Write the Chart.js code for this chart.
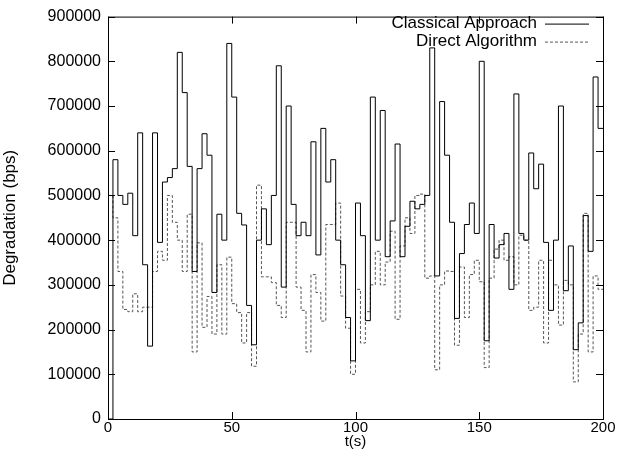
<!DOCTYPE html>
<html>
<head>
<meta charset="utf-8">
<script src="https://cdn.jsdelivr.net/npm/chart.js@4/dist/chart.umd.min.js"></script>
<style>
  html, body { margin: 0; padding: 0; background: #fff; }
  #wrap { width: 625px; height: 449px; }
</style>
</head>
<body>
<div id="wrap"><canvas id="degChart"></canvas></div>
<script>
// sample period of both traces (s)
var STEP = 2;

// degradation in kbps, one value per 2 s interval starting at t = 0
var classical = [
    0, 580, 500, 480, 505, 410, 640, 345, 163, 640,
    395, 530, 540, 560, 820, 730, 565, 330, 560, 638,
    590, 283, 458, 400, 840, 720, 460, 434, 254, 166,
    400, 470, 390, 500, 790, 295, 700, 480, 410, 440,
    410, 620, 367, 650, 530, 580, 400, 345, 227, 130,
    483, 410, 220, 720, 400, 690, 363, 443, 615, 363,
    431, 487, 470, 480, 500, 830, 320, 710, 590, 440,
    225, 370, 435, 483, 415, 800, 175, 435, 360, 390,
    415, 290, 727, 415, 400, 595, 515, 570, 395, 243,
    400, 700, 287, 387, 155, 215, 455, 375, 765, 650
];
var direct = [
    500, 450, 330, 245, 240, 280, 240, 250, 250, 330,
    375, 355, 500, 440, 400, 330, 458, 150, 394, 205,
    274, 190, 345, 190, 362, 258, 238, 170, 238, 118,
    523, 318, 318, 305, 254, 227, 440, 440, 295, 243,
    150, 323, 283, 219, 435, 435, 483, 275, 203, 100,
    290, 170, 240, 300, 375, 300, 351, 420, 223, 387,
    450, 415, 500, 503, 315, 320, 110, 300, 331, 330,
    165, 340, 227, 323, 355, 307, 115, 315, 380, 400,
    355, 363, 300, 411, 400, 243, 250, 355, 170, 355,
    300, 210, 310, 300, 83, 190, 460, 150, 320, 290
];
var seriesNames = ['Classical Approach', 'Direct Algorithm'];
var xTicks = [0, 50, 100, 150, 200];
var yTicks = [0, 100000, 200000, 300000, 400000, 500000, 600000, 700000, 800000, 900000];
var xTitle = 't(s)';

var FONT = "'Liberation Sans', Arial, Helvetica, sans-serif";

function toPoints(vals) {
    var pts = vals.map(function(v, i) { return { x: i * STEP, y: v * 1000 }; });
    // hold the last value until the end of the run
    pts.push({ x: vals.length * STEP, y: vals[vals.length - 1] * 1000 });
    return pts;
}

// gnuplot style frame: box, inward ticks on all sides, legend inside top right
var framePlugin = {
    id: 'frame',
    afterDatasetsDraw: function(chart) {
        var ctx = chart.ctx, a = chart.chartArea;
        var xs = chart.scales.x, ys = chart.scales.y;
        ctx.save();
        ctx.strokeStyle = '#000';
        ctx.lineWidth = 1;
        ctx.setLineDash([]);
        ctx.strokeRect(a.left + 0.5, a.top + 0.5, a.right - a.left, a.bottom - a.top);
        var len = 7;
        ctx.beginPath();
        xTicks.forEach(function(t) {
            var px = Math.round(xs.getPixelForValue(t)) + 0.5;
            ctx.moveTo(px, a.bottom); ctx.lineTo(px, a.bottom - len);
            ctx.moveTo(px, a.top); ctx.lineTo(px, a.top + len);
        });
        yTicks.forEach(function(t) {
            var py = Math.round(ys.getPixelForValue(t)) + 0.5;
            ctx.moveTo(a.left, py); ctx.lineTo(a.left + len, py);
            ctx.moveTo(a.right, py); ctx.lineTo(a.right - len, py);
        });
        ctx.stroke();

        // x axis title, tucked under the tick labels
        ctx.fillStyle = '#000';
        ctx.font = '15px ' + FONT;
        ctx.textAlign = 'center';
        ctx.textBaseline = 'alphabetic';
        ctx.fillText(xTitle, (a.left + a.right) / 2, 446);

        // legend
        ctx.font = '17px ' + FONT;
        ctx.textAlign = 'right';
        ctx.textBaseline = 'middle';
        chart.data.datasets.forEach(function(ds, i) {
            var y = a.top + 7 + i * 18;
            ctx.fillStyle = '#000';
            ctx.fillText(ds.label, a.right - 66, y);
            ctx.strokeStyle = ds.borderColor;
            ctx.setLineDash(ds.borderDash || []);
            ctx.beginPath();
            ctx.moveTo(a.right - 58, y + 0.5);
            ctx.lineTo(a.right - 14, y + 0.5);
            ctx.stroke();
        });
        ctx.restore();
    }
};

new Chart(document.getElementById('degChart'), {
    type: 'line',
    data: {
        datasets: [{
            label: seriesNames[0],
            data: toPoints(classical),
            borderColor: '#000',
            borderWidth: 1,
            stepped: true,
            pointRadius: 0,
            fill: false
        }, {
            label: seriesNames[1],
            data: toPoints(direct),
            borderColor: '#555',
            borderWidth: 1,
            borderDash: [3, 2],
            stepped: true,
            pointRadius: 0,
            fill: false
        }]
    },
    options: {
        responsive: true,
        maintainAspectRatio: false,
        animation: false,
        layout: { padding: { top: 14, right: 22, bottom: 0, left: 0 } },
        plugins: {
            legend: { display: false },
            tooltip: { enabled: false }
        },
        scales: {
            x: {
                type: 'linear',
                min: 0,
                max: 200,
                grid: { display: false, drawTicks: false },
                border: { display: false },
                afterBuildTicks: function(scale) {
                    scale.ticks = xTicks.map(function(v) { return { value: v }; });
                },
                ticks: { color: '#000', padding: 0, maxRotation: 0, font: { family: FONT, size: 15 } },
                afterFit: function(scale) { scale.height = 30; }
            },
            y: {
                min: 0,
                max: 900000,
                grid: { display: false, drawTicks: false },
                border: { display: false },
                afterBuildTicks: function(scale) {
                    scale.ticks = yTicks.map(function(v) { return { value: v }; });
                },
                ticks: { color: '#000', padding: 7, font: { family: FONT, size: 16 },
                    callback: function(v) { return String(v); } },
                title: { display: true, text: 'Degradation (bps)', color: '#000', padding: { top: 0, bottom: 2 }, font: { family: FONT, size: 17 } },
                afterFit: function(scale) { scale.width = 108; }
            }
        }
    },
    plugins: [framePlugin]
});
</script>
</body>
</html>
